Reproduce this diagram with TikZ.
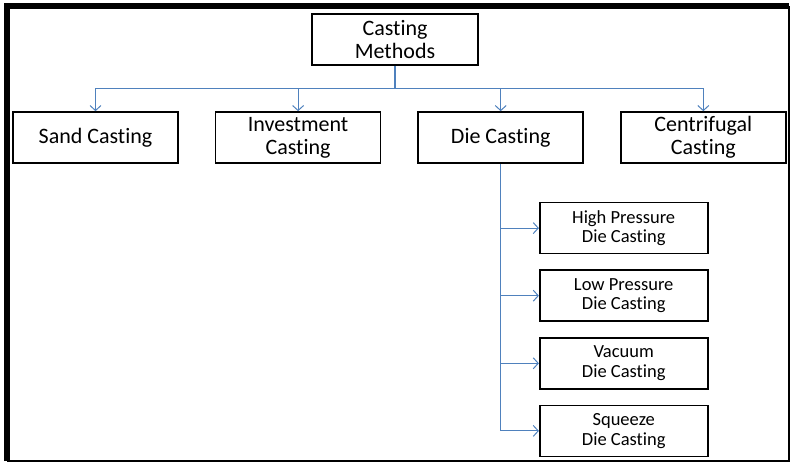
\documentclass[tikz,border=0pt]{standalone}
\usepackage{fontspec}
\setmainfont{Carlito}[Ligatures=NoCommon]
\usetikzlibrary{positioning,arrows.meta}

\definecolor{linkblue}{HTML}{4F81BD}

\tikzset{
  method/.style={draw, line width=1.6pt, minimum width=165pt, minimum height=51pt,
    inner sep=0pt, align=center, font=\fontsize{22}{23}\selectfont},
  submethod/.style={method, minimum width=168pt, font=\fontsize{18.5}{19.5}\selectfont},
  link/.style={draw=linkblue, line width=1pt, -{Straight Barb[length=5pt,width=11pt]}},
  stem/.style={draw=linkblue, line width=1.5pt},
}

\begin{document}
\begin{tikzpicture}[x=1pt, y=-1pt]
	\useasboundingbox (0,0) rectangle (791,462);
	
	% outer frame
	\draw[line width=6pt] (7,461) -- (7,6.5) -- (789,6.5);
	\draw[line width=1.5pt] (789,6.5) -- (789,461) -- (7,461);
	
	\node[method, minimum width=166pt] (root) at (395,39.5) {Casting\\Methods};
	
	\node[method] (sand) at (95.5,137.5) {Sand Casting};
	\node[method, right=36pt of sand] (invest) {Investment\\Casting};
	\node[method, right=36pt of invest] (die) {Die Casting};
	\node[method, right=36pt of die] (centri) {Centrifugal\\Casting};
	
	\node[submethod, below=38pt of die, xshift=123pt] (high) {High Pressure\\Die Casting};
	\node[submethod, below=15pt of high] (low) {Low Pressure\\Die Casting};
	\node[submethod, below=15pt of low] (vacuum) {Vacuum\\Die Casting};
	\node[submethod, below=15pt of vacuum] (squeeze) {Squeeze\\Die Casting};
	
	\coordinate[below=22.5pt of root.south] (bus);
	
	\draw[stem] (root) -- (bus);
	\foreach \n in {sand,invest,die,centri}
		\draw[link] (bus) -| (\n);
	
	\draw[stem] (die.south) -- (die.south |- squeeze.west);
	\foreach \n in {high,low,vacuum,squeeze}
		\draw[link] (die.south |- \n.west) -- (\n);
	
\end{tikzpicture}
\end{document}
